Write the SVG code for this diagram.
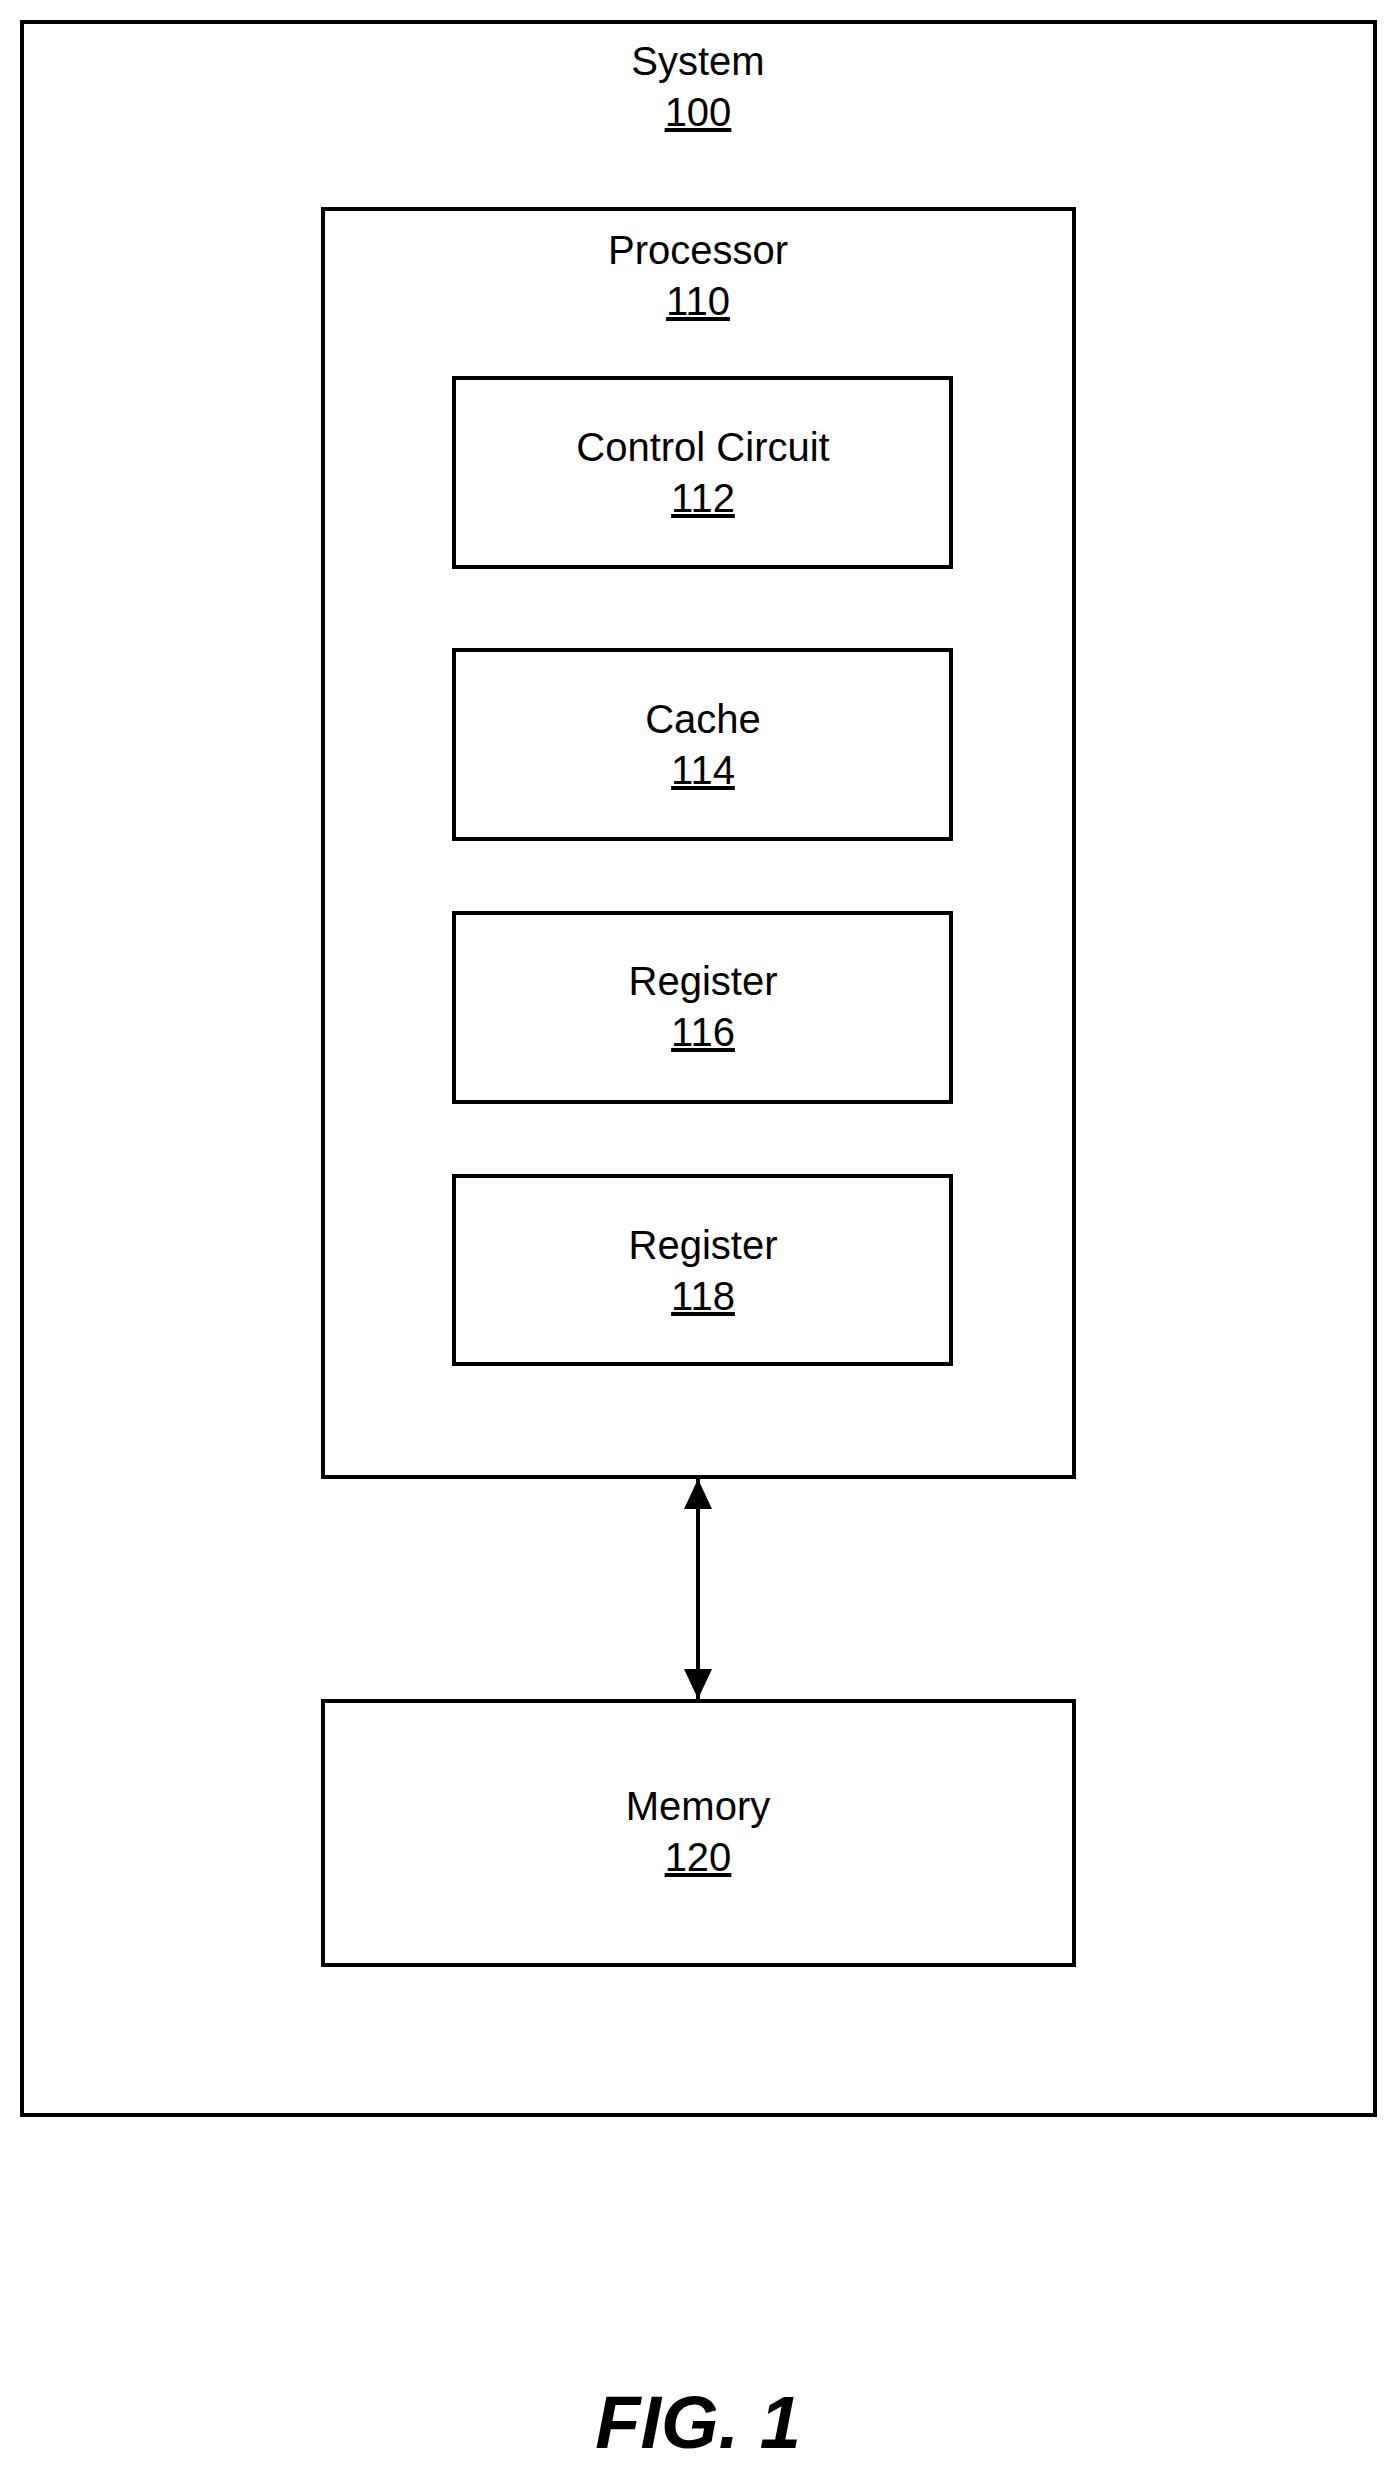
<svg xmlns="http://www.w3.org/2000/svg" width="1396" height="2467" viewBox="0 0 1396 2467">
<style>
rect{fill:none;stroke:#000;stroke-width:4}
text{font-family:"Liberation Sans",Arial,sans-serif;font-size:40px;text-anchor:middle;fill:#000}
.u{text-decoration:underline}
</style>
<defs>
<marker id="ah" viewBox="0 0 30 28" refX="30" refY="14" markerWidth="30" markerHeight="28" markerUnits="userSpaceOnUse" orient="auto-start-reverse">
<path d="M0,0 L30,14 L0,28 z" fill="#000"/>
</marker>
</defs>
<rect x="0" y="0" width="1396" height="2467" style="fill:#fff;stroke:none"/>
<g id="system"><rect x="22" y="22" width="1353" height="2093"/><text x="698" y="75">System</text><text class="u" x="698" y="126">100</text></g>
<g id="processor"><rect x="323" y="209" width="751" height="1268"/><text x="698" y="264">Processor</text><text class="u" x="698" y="315">110</text></g>
<g id="control"><rect x="454" y="378" width="497" height="189"/><text x="703" y="461">Control Circuit</text><text class="u" x="703" y="512">112</text></g>
<g id="cache"><rect x="454" y="650" width="497" height="189"/><text x="703" y="733">Cache</text><text class="u" x="703" y="784">114</text></g>
<g id="reg116"><rect x="454" y="913" width="497" height="189"/><text x="703" y="995">Register</text><text class="u" x="703" y="1046">116</text></g>
<g id="reg118"><rect x="454" y="1176" width="497" height="188"/><text x="703" y="1259">Register</text><text class="u" x="703" y="1310">118</text></g>
<g id="memory"><rect x="323" y="1701" width="751" height="264"/><text x="698" y="1820">Memory</text><text class="u" x="698" y="1871">120</text></g>
<g id="connectors"><line x1="698" y1="1479" x2="698" y2="1699" stroke="#000" stroke-width="4" marker-start="url(#ah)" marker-end="url(#ah)"/></g>
<text x="698" y="2448" style="font-size:74px;font-weight:bold;font-style:italic">FIG. 1</text>
</svg>
